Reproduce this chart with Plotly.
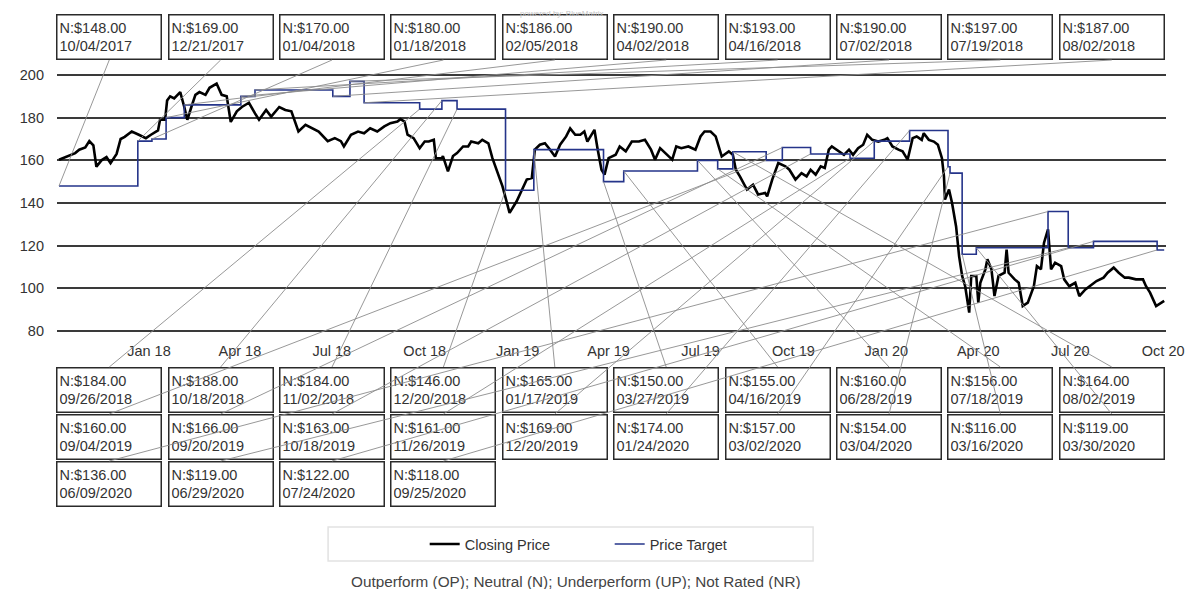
import pandas as pd
import plotly.graph_objects as go

# ---------------- data ----------------
price_dates = [
    "2017-10-04", "2017-10-10", "2017-10-20", "2017-10-24", "2017-10-30", "2017-11-03", "2017-11-07",
    "2017-11-10", "2017-11-15", "2017-11-20", "2017-11-24", "2017-11-30", "2017-12-04", "2017-12-08",
    "2017-12-15", "2017-12-22", "2017-12-29", "2018-01-03", "2018-01-10", "2018-01-12", "2018-01-17",
    "2018-01-19", "2018-01-22", "2018-01-26", "2018-02-01", "2018-02-05", "2018-02-08", "2018-02-12",
    "2018-02-16", "2018-02-20", "2018-02-26", "2018-03-02", "2018-03-09", "2018-03-14", "2018-03-19",
    "2018-03-23", "2018-03-29", "2018-04-03", "2018-04-10", "2018-04-16", "2018-04-20", "2018-04-27",
    "2018-05-02", "2018-05-10", "2018-05-16", "2018-05-22", "2018-05-29", "2018-06-05", "2018-06-11",
    "2018-06-18", "2018-06-27", "2018-07-04", "2018-07-10", "2018-07-13", "2018-07-20", "2018-07-27",
    "2018-08-02", "2018-08-08", "2018-08-15", "2018-08-22", "2018-08-28", "2018-09-04", "2018-09-07",
    "2018-09-11", "2018-09-14", "2018-09-20", "2018-09-26", "2018-10-01", "2018-10-05", "2018-10-10",
    "2018-10-12", "2018-10-18", "2018-10-19", "2018-10-24", "2018-10-29", "2018-11-02", "2018-11-08",
    "2018-11-13", "2018-11-16", "2018-11-23", "2018-11-27", "2018-12-03", "2018-12-07", "2018-12-12",
    "2018-12-17", "2018-12-21", "2018-12-24", "2018-12-31", "2019-01-04", "2019-01-10", "2019-01-15",
    "2019-01-18", "2019-01-23", "2019-01-28", "2019-02-01", "2019-02-07", "2019-02-12", "2019-02-18",
    "2019-02-22", "2019-02-27", "2019-03-04", "2019-03-08", "2019-03-11", "2019-03-18", "2019-03-21",
    "2019-03-25", "2019-03-28", "2019-04-01", "2019-04-08", "2019-04-12", "2019-04-18", "2019-04-24",
    "2019-05-01", "2019-05-07", "2019-05-13", "2019-05-17", "2019-05-22", "2019-05-27", "2019-06-03",
    "2019-06-07", "2019-06-12", "2019-06-19", "2019-06-26", "2019-07-01", "2019-07-05", "2019-07-11",
    "2019-07-16", "2019-07-22", "2019-07-29", "2019-08-02", "2019-08-05", "2019-08-09", "2019-08-16",
    "2019-08-22", "2019-08-27", "2019-09-03", "2019-09-05", "2019-09-10", "2019-09-16", "2019-09-23",
    "2019-09-27", "2019-10-03", "2019-10-09", "2019-10-14", "2019-10-18", "2019-10-23", "2019-10-28",
    "2019-11-01", "2019-11-05", "2019-11-08", "2019-11-15", "2019-11-20", "2019-11-25", "2019-11-29",
    "2019-12-04", "2019-12-09", "2019-12-13", "2019-12-18", "2019-12-24", "2019-12-30", "2020-01-02",
    "2020-01-07", "2020-01-13", "2020-01-17", "2020-01-22", "2020-01-27", "2020-01-31", "2020-02-05",
    "2020-02-07", "2020-02-12", "2020-02-17", "2020-02-21", "2020-02-25", "2020-02-27", "2020-02-28",
    "2020-03-03", "2020-03-06", "2020-03-10", "2020-03-13", "2020-03-16", "2020-03-19", "2020-03-23",
    "2020-03-25", "2020-03-30", "2020-04-01", "2020-04-03", "2020-04-08", "2020-04-10", "2020-04-14",
    "2020-04-17", "2020-04-21", "2020-04-27", "2020-04-29", "2020-05-01", "2020-05-07", "2020-05-11",
    "2020-05-15", "2020-05-20", "2020-05-26", "2020-05-29", "2020-06-02", "2020-06-05", "2020-06-09",
    "2020-06-12", "2020-06-16", "2020-06-22", "2020-06-25", "2020-06-30", "2020-07-06", "2020-07-10",
    "2020-07-16", "2020-07-20", "2020-07-27", "2020-08-03", "2020-08-07", "2020-08-13", "2020-08-18",
    "2020-08-24", "2020-08-28", "2020-09-04", "2020-09-11", "2020-09-14", "2020-09-18", "2020-09-24",
    "2020-09-29", "2020-10-02",
]
price_values = [
    160.3, 161.5, 163.4, 165.0, 166.0, 169.0, 167.0,
    157.0, 160.0, 161.5, 158.7, 163.0, 170.0, 171.0,
    173.5, 172.0, 170.4, 172.0, 174.0, 179.0, 179.0,
    188.0, 190.0, 189.0, 192.0, 185.0, 179.0, 185.0,
    190.7, 192.0, 190.7, 194.0, 196.0, 190.7, 190.0,
    178.0, 183.0, 185.0, 187.0, 182.0, 179.0, 183.6,
    180.5, 185.0, 183.6, 183.0, 173.5, 176.6, 175.0,
    173.5, 169.0, 170.4, 169.0, 166.5, 172.0, 173.5,
    172.7, 175.0, 173.5, 175.9, 177.4, 178.2, 179.3,
    178.2, 172.0, 170.4, 165.7, 168.8, 168.8, 169.6,
    161.0, 161.0, 162.0, 154.8, 162.0, 163.4, 166.5,
    166.5, 168.8, 168.0, 169.6, 168.0, 161.0, 154.0,
    147.8, 140.8, 135.4, 140.8, 144.7, 151.0, 151.7,
    165.0, 167.3, 168.0, 165.7, 161.8, 167.3, 171.2,
    175.0, 172.0, 172.0, 173.5, 168.8, 174.3, 165.7,
    155.6, 153.3, 161.0, 162.6, 166.5, 164.2, 168.8,
    168.8, 169.6, 165.0, 160.3, 165.7, 163.4, 160.3,
    166.5, 165.7, 166.5, 165.0, 171.2, 173.5, 173.5,
    171.2, 161.8, 164.2, 162.6, 155.6, 152.5, 146.3,
    148.6, 144.0, 144.7, 143.1, 151.0, 158.7, 157.2,
    155.6, 151.0, 154.0, 152.5, 155.6, 153.3, 157.2,
    156.4, 165.0, 166.5, 164.2, 162.6, 165.0, 162.6,
    165.7, 167.3, 172.0, 169.6, 168.8, 169.6, 170.4,
    166.5, 165.0, 164.2, 160.3, 170.4, 171.2, 169.6,
    172.7, 169.6, 168.8, 167.3, 161.0, 152.5, 141.6,
    146.3, 140.0, 129.0, 115.0, 105.8, 101.0, 88.6,
    105.8, 105.8, 93.3, 102.6, 108.9, 113.6, 108.9,
    96.4, 105.8, 107.3, 118.2, 107.3, 104.2, 102.6,
    91.7, 93.3, 101.0, 110.4, 108.9, 121.3, 127.6,
    108.9, 112.0, 110.4, 104.2, 101.0, 102.6, 96.4,
    99.5, 101.0, 103.4, 105.0, 107.3, 109.7, 107.3,
    105.0, 105.0, 104.2, 104.2, 101.0, 98.0, 91.7,
    93.3, 94.1,
]

target_dates = [
    "2017-10-04", "2017-12-21", "2018-01-04", "2018-01-18", "2018-02-05", "2018-04-02", "2018-04-16",
    "2018-07-02", "2018-07-19", "2018-08-02", "2018-09-26", "2018-10-18", "2018-11-02", "2018-12-20",
    "2019-01-17", "2019-03-27", "2019-04-16", "2019-06-28", "2019-07-18", "2019-08-02", "2019-09-04",
    "2019-09-20", "2019-10-18", "2019-11-26", "2019-12-20", "2020-01-24", "2020-03-02", "2020-03-04",
    "2020-03-16", "2020-03-30", "2020-06-09", "2020-06-29", "2020-07-24", "2020-09-25",
]
target_values = [
    148, 169, 170, 180, 186, 190, 193,
    190, 197, 187, 184, 188, 184, 146,
    165, 150, 155, 160, 156, 164, 160,
    166, 163, 161, 169, 174, 157, 154,
    116, 119, 136, 119, 122, 118,
]
target_end_date = "2020-10-02"
rating_prefix = "N:"

y_tick_values = [80, 100, 120, 140, 160, 180, 200]
x_tick_dates = ["2018-01-01", "2018-04-01", "2018-07-01", "2018-10-01", "2019-01-01", "2019-04-01",
                "2019-07-01", "2019-10-01", "2020-01-01", "2020-04-01", "2020-07-01", "2020-10-01"]

legend_names = ["Closing Price", "Price Target"]
footer_text = "Outperform (OP); Neutral (N); Underperform (UP); Not Rated (NR)"
credit_text = "powered by: BlueMatrix"

# ---------------- layout constants (page pixels) ----------------
OFF = 8                                   # default page margin around the figure
W, H = 1204 - 2 * OFF, 597 - 2 * OFF      # figure size
PL, PR, PT, PB = 45, 1170, 65, 340        # plot area in page pixels
X0, X1 = pd.Timestamp("2017-10-02"), pd.Timestamp("2020-10-03 19:00")
Y0, Y1 = 75.78, 204.69
FONT = "Liberation Sans, Arial, sans-serif"

BOX_PITCH, BOX_W, BOX_TEXT_W, BOX_TEXT_H = 113, 106, 99, 39
TOP_ROW_BOTTOM = 60
BOTTOM_ROW_TOPS = [367, 414, 461]


def px_to_date(px):
    return (X0 + (px - PL) / (PR - PL) * (X1 - X0)).strftime("%Y-%m-%d %H:%M:%S")


def py_to_val(py):
    return Y1 - (py - PT) / (PB - PT) * (Y1 - Y0)


def paper_x(px):
    return (px - PL) / (PR - PL)


def paper_y(py):
    return (PB - py) / (PB - PT)


fig = go.Figure()
fig.add_trace(go.Scatter(
    x=price_dates, y=price_values, mode="lines", name=legend_names[0],
    line=dict(color="#000000", width=2.6),
))
fig.add_trace(go.Scatter(
    x=target_dates + [target_end_date], y=target_values + [target_values[-1]],
    mode="lines", name=legend_names[1], line=dict(color="#25348a", width=1.6, shape="hv"),
))

annotations = []
for i, (d, v) in enumerate(zip(target_dates, target_values)):
    label = f"{rating_prefix}${v:.2f}<br>{pd.Timestamp(d).strftime('%m/%d/%Y')}"
    if i < 10:
        col, anchor_y, yanchor = i, TOP_ROW_BOTTOM, "bottom"
    else:
        k = i - 10
        col, anchor_y, yanchor = k % 10, BOTTOM_ROW_TOPS[k // 10], "top"
    cx = PL + col * BOX_PITCH + BOX_W / 2
    annotations.append(dict(
        x=d, y=v, xref="x", yref="y",
        ax=px_to_date(cx), ay=py_to_val(anchor_y), axref="x", ayref="y",
        text=label, showarrow=True, arrowhead=0, arrowwidth=0.9, arrowcolor="#8c8c8c",
        standoff=0, startstandoff=0,
        xanchor="center", yanchor=yanchor, align="left", valign="middle",
        width=BOX_TEXT_W, height=BOX_TEXT_H,
        bordercolor="#2a2a2a", borderwidth=1.5, borderpad=2, bgcolor="rgba(0,0,0,0)",
        font=dict(family=FONT, size=14.5, color="#333333"),
    ))

annotations.append(dict(
    x=paper_x(571), y=paper_y(581), xref="paper", yref="paper", showarrow=False,
    text=footer_text, font=dict(family=FONT, size=15.3, color="#444444"),
    xanchor="center", yanchor="middle",
))
annotations.append(dict(
    x=paper_x(557), y=paper_y(OFF), xref="paper", yref="paper", showarrow=False,
    text=credit_text, font=dict(family=FONT, size=8, color="#c4c4c4"),
    xanchor="center", yanchor="top", borderpad=0,
))

shapes = [dict(
    type="rect", xref="paper", yref="paper",
    x0=paper_x(320), x1=paper_x(812), y0=paper_y(561), y1=paper_y(527),
    line=dict(color="#e2e2e2", width=1.5), fillcolor="rgba(0,0,0,0)", layer="below",
)]

fig.update_layout(
    width=W, height=H, autosize=False,
    margin=dict(l=PL - OFF, r=W - (PR - OFF), t=PT - OFF, b=H - (PB - OFF), pad=0),
    paper_bgcolor="white", plot_bgcolor="white",
    font=dict(family=FONT, size=14.5, color="#333333"),
    showlegend=True,
    legend=dict(
        orientation="h", x=paper_x(418), y=paper_y(544), xanchor="left", yanchor="middle",
        bgcolor="rgba(0,0,0,0)", borderwidth=0, entrywidth=140, entrywidthmode="pixels",
        font=dict(family=FONT, size=14.5, color="#333333"),
    ),
    annotations=annotations,
    shapes=shapes,
    xaxis=dict(
        type="date", range=[X0, X1], tickvals=x_tick_dates, tickformat="%b %y",
        showgrid=False, zeroline=False, showline=False, ticks="",
        tickfont=dict(family=FONT, size=14.5, color="#333333"),
    ),
    yaxis=dict(
        range=[Y0, Y1], tickvals=y_tick_values, showgrid=True, gridcolor="#3a3a3a", gridwidth=1.6,
        zeroline=False, showline=False, ticks="", ticklabelstandoff=12,
        tickfont=dict(family=FONT, size=14.5, color="#333333"),
    ),
)

fig.write_html("out.html")
